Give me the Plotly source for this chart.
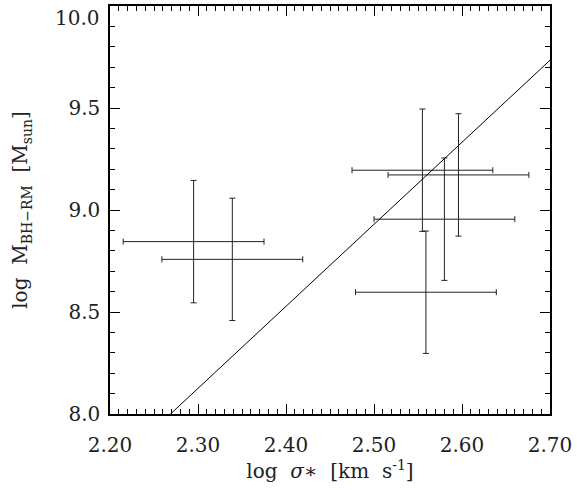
import plotly.graph_objects as go

# Data
log_sigma = [2.295, 2.339, 2.555, 2.596, 2.580, 2.559]
log_mbh = [8.845, 8.758, 9.195, 9.172, 8.955, 8.597]
sigma_err = [0.08, 0.08, 0.08, 0.08, 0.08, 0.08]
mbh_err = [0.30, 0.30, 0.30, 0.30, 0.30, 0.30]

# M-sigma relation line endpoints
line_x = [2.2687, 2.70]
line_y = [8.0, 9.734]

x_ticks = [2.20, 2.30, 2.40, 2.50, 2.60, 2.70]
y_ticks = [8.0, 8.5, 9.0, 9.5, 10.0]

font_family = "DejaVu Serif"
text_color = "#222"

fig = go.Figure()
fig.add_trace(go.Scatter(
    x=log_sigma, y=log_mbh, mode="markers",
    marker=dict(size=1, color="rgba(0,0,0,0)"),
    error_x=dict(type="data", array=sigma_err, width=3, thickness=1, color="#222"),
    error_y=dict(type="data", array=mbh_err, width=3, thickness=1, color="#222"),
    showlegend=False, hoverinfo="skip",
))
fig.add_trace(go.Scatter(
    x=line_x, y=line_y, mode="lines",
    line=dict(color="black", width=1), showlegend=False,
))

axis_common = dict(
    showgrid=False, zeroline=False, showline=True, linecolor="black", linewidth=1.5,
    mirror="allticks", ticks="inside", ticklen=10, tickwidth=1.2, tickcolor="black",
    tickfont=dict(family=font_family, size=20, color=text_color),
    automargin=False,
)

fig.update_xaxes(
    range=[2.2, 2.7], tickvals=x_ticks, ticktext=[f"{v:.2f}" for v in x_ticks],
    minor=dict(dtick=0.01, tick0=2.2, ticks="inside", ticklen=5, tickcolor="black", tickwidth=1.2),
    title=dict(text="log  <i>σ</i>∗  [km  s<sup>-1</sup>]", font=dict(family=font_family, size=20, color=text_color), standoff=6),
    ticklabelstandoff=12,
    **axis_common,
)
# top label is drawn as an annotation so it sits just below the frame, like the reference
y_ticktext = [f"{v:.1f}" if v < y_ticks[-1] else "" for v in y_ticks]
fig.update_yaxes(
    range=[8.0, 10.0], tickvals=y_ticks, ticktext=y_ticktext,
    minor=dict(dtick=0.1, tick0=8.0, ticks="inside", ticklen=5, tickcolor="black", tickwidth=1.2),
    title=dict(text="log  M<sub>BH−RM</sub>  [M<sub>sun</sub>]", font=dict(family=font_family, size=20, color=text_color), standoff=35),
    ticklabelstandoff=4,
    **axis_common,
)
fig.add_annotation(
    xref="paper", x=0, xanchor="right", xshift=-8,
    yref="y", y=y_ticks[-1], yanchor="top", yshift=2,
    text=f"{y_ticks[-1]:.1f}", showarrow=False,
    font=dict(family=font_family, size=20, color=text_color),
)

fig.update_layout(
    width=577, height=490,
    margin=dict(l=110, r=27, t=6, b=76),
    plot_bgcolor="white", paper_bgcolor="white",
)

fig.write_html("out.html", config={"displayModeBar": False},
               post_script="document.body.style.margin='0';")
